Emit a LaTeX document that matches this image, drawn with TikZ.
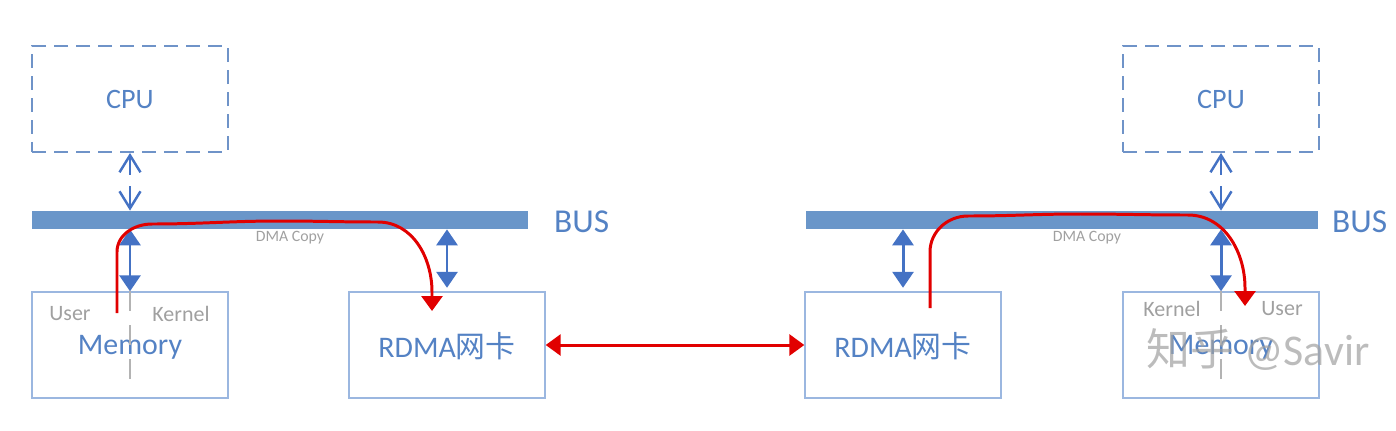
\documentclass[tikz,border=0pt]{standalone}
\usepackage{fontspec}
\setmainfont{Carlito}
\newfontfamily\cjk{Noto Sans CJK SC}
\usetikzlibrary{positioning,arrows.meta,calc}
\definecolor{boxblue}{RGB}{155,183,224}
\definecolor{txtblue}{RGB}{84,130,196}
\definecolor{busblue}{RGB}{106,150,201}
\definecolor{arrblue}{RGB}{68,114,196}
\definecolor{dashblue}{RGB}{111,147,200}
\definecolor{softgray}{RGB}{160,160,160}
\definecolor{flowred}{RGB}{225,0,0}

\tikzset{
  cpubox/.style={draw=dashblue,line width=1.1pt,dash pattern=on 0.28cm off 0.16cm,minimum width=3.92cm,minimum height=2.12cm,text=txtblue,font=\fontsize{16}{19}\selectfont},
  hwbox/.style={draw=boxblue,line width=0.8pt,minimum width=3.92cm,minimum height=2.12cm,text depth=0pt,text=txtblue,font=\fontsize{17}{20}\selectfont},
  bus/.style={fill=busblue,minimum height=0.36cm,inner sep=0pt},
  buslabel/.style={text=txtblue,font=\fontsize{19}{22}\selectfont,anchor=west},
  side/.style={text=softgray,font=\fontsize{12.5}{15}\selectfont},
  dmalabel/.style={text=softgray,font=\fontsize{9}{11}\selectfont},
  openarr/.style={draw=arrblue,line width=1.4pt,{Straight Barb[length=0.34cm,width=0.42cm]}-},
  dblarr/.style={draw=arrblue,line width=1.7pt,{Triangle[length=0.32cm,width=0.42cm]}-{Triangle[length=0.32cm,width=0.42cm]}},
  flow/.style={draw=flowred,line width=1.7pt,-{Triangle[length=0.3cm,width=0.42cm]}},
  divider/.style={draw=softgray!80,line width=1.5pt,dash pattern=on 0.4cm off 0.28cm}
}

\begin{document}
\begin{tikzpicture}[x=0.02cm,y=-0.02cm]
    \useasboundingbox (0,0) rectangle (1396,430);

    % Left host
    \node[cpubox] (cpuL) at (130,99) {CPU};
    \node[bus,minimum width=9.92cm] (busL) at (280,220) {};
    \node[buslabel] (busLtxt) at (548,222) {BUS};
    \node[hwbox] (memL) at (130,345) {Memory};
    \node[side] (userL) at (70,314) {User};
    \node[side] (kernL) at (181,314) {Kernel};
    \draw[divider] (memL.north) -- ++(0,94);

    % Left bus links
    \draw[openarr] (cpuL.south) -- ++(0,22);
    \draw[openarr] (cpuL.south |- busL.north) -- ++(0,-25);
    \draw[dblarr] (memL.north) -- (memL.north |- busL.south);
    \node[hwbox] (nicL) at (447,345) {RDMA{\cjk 网卡}};
    \draw[dblarr,shorten <=2pt] (nicL.north) -- (nicL.north |- busL.south);

    % Left DMA copy
    \coordinate (srcL) at (117,313);
    \coordinate (dstL) at (432,311);
    \draw[flow] (srcL) -- (117,252) to[out=90,in=180] (152,224) to[out=0,in=180] (280,221) to[out=0,in=180] (378,222) to[out=0,in=90] (432,292) -- (dstL);
    \node[dmalabel] (dmaL) at (290,238) {DMA Copy};

    % Right host
    \node[cpubox] (cpuR) at (1221,99) {CPU};
    \node[bus,minimum width=10.24cm] (busR) at (1062,220) {};
    \node[buslabel] (busRtxt) at (1326,222) {BUS};
    \node[hwbox] (nicR) at (903,345) {RDMA{\cjk 网卡}};
    \node[hwbox] (memR) at (1221,345) {Memory};
    \node[side] (kernR) at (1172,309) {Kernel};
    \node[side] (userR) at (1282,309) {User};
    \draw[divider] (memR.north) -- ++(0,94);

    % Right bus links
    \draw[openarr] (cpuR.south) -- ++(0,22);
    \draw[openarr] (cpuR.south |- busR.north) -- ++(0,-25);
    \draw[dblarr] (memR.north) -- (memR.north |- busR.south);
    \draw[dblarr,shorten <=2pt] (nicR.north) -- (nicR.north |- busR.south);

    % Right DMA copy
    \coordinate (srcR) at (930,308);
    \coordinate (dstR) at (1245,306);
    \draw[flow] (srcR) -- (930,252) to[out=90,in=180] (968,216) to[out=0,in=180] (1080,214) to[out=0,in=180] (1188,215) to[out=0,in=90] (1245,288) -- (dstR);
    \node[dmalabel] (dmaR) at (1087,238) {DMA Copy};

    % Network link
    \draw[flow,{Triangle[length=0.3cm,width=0.42cm]}-{Triangle[length=0.3cm,width=0.42cm]}] (nicL.east) -- (nicR.west);

    % Watermark
    \node[text=softgray,opacity=0.7,font=\fontsize{25}{29}\selectfont] (mark) at (1258,349) {{\cjk 知乎} @Savir};
\end{tikzpicture}
\end{document}
